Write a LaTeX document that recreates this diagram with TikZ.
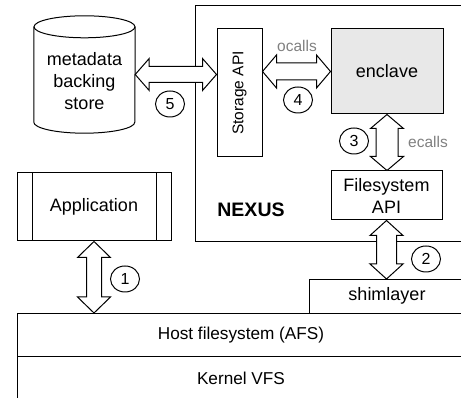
\documentclass[tikz,border=0pt]{standalone}
\usepackage{fontspec}
\setmainfont{Liberation Sans}
\usetikzlibrary{calc,shapes.geometric}
\definecolor{enclavefill}{HTML}{E8E8E8}
\definecolor{callgray}{HTML}{808080}

\tikzset{
  outline/.style={draw, line width=1pt},
  boxnode/.style={outline, inner sep=0pt, align=center},
  lbl/.style={inner sep=0pt, align=center, font=\fontsize{18}{22}\selectfont},
  smalllbl/.style={inner sep=0pt, align=center, font=\fontsize{17.2}{20}\selectfont},
  fatbody/.style={draw, line width=1pt, fill=white, line join=miter},
  numtag/.style={draw, line width=1pt, ellipse, minimum width=29pt, minimum height=26pt,
    inner sep=0pt, font=\fontsize{16}{16}\selectfont},
  calltag/.style={inner sep=0pt, text=callgray, font=\fontsize{15.5}{15.5}\selectfont},
}

% double-headed block arrow between two named points:
% #1 start, #2 end, #3 half shaft width, #4 half head width, #5 head length
\newcommand\fatarrow[5]{%
  \path ($(#1)!#5!(#2)$) coordinate (fatA) ($(#2)!#5!(#1)$) coordinate (fatB);
  \draw[fatbody] (#1)
    -- ($(fatA)!#4!90:(#2)$) -- ($(fatA)!#3!90:(#2)$)
    -- ($(fatB)!#3!-90:(#1)$) -- ($(fatB)!#4!-90:(#1)$)
    -- (#2)
    -- ($(fatB)!#4!90:(#1)$) -- ($(fatB)!#3!90:(#1)$)
    -- ($(fatA)!#3!-90:(#2)$) -- ($(fatA)!#4!-90:(#2)$)
    -- cycle;}

\begin{document}
\begin{tikzpicture}[x=1pt, y=1pt]
\useasboundingbox (0,0) rectangle (461,398);
\clip (0,0) rectangle (461,398);

% NEXUS container
\node[boxnode, anchor=north west, minimum width=275pt, minimum height=236pt] (nexus) at (195,393) {};
\node[inner sep=0pt, font=\bfseries\fontsize{19.5}{19.5}\selectfont] (nexuslabel) at (251,188) {NEXUS};

% metadata backing store (cylinder)
\node[inner sep=0pt, minimum width=101pt, minimum height=117pt] (store) at (84.5,323.5) {};
\draw[outline] ($(store.north)+(0,-11)$) ellipse [x radius=50.5, y radius=11];
\draw[outline] ($(store.north west)+(0,-11)$) -- ($(store.south west)+(0,11)$)
  arc[start angle=180, end angle=360, x radius=50.5, y radius=11]
  -- ($(store.north east)+(0,-11)$);
\node[lbl] (storetext) at (84.5,317) {metadata\\backing\\store};

% Storage API
\node[boxnode, minimum width=45pt, minimum height=128pt] (storage) at (239.5,305) {};
\node[inner sep=0pt, rotate=90, font=\fontsize{15.5}{15.5}\selectfont] (storagetext) at (storage.center) {Storage API};

% enclave
\node[boxnode, lbl, draw, fill=enclavefill, minimum width=112pt, minimum height=85pt] (enclave) at (387,326.5) {enclave};

% Filesystem API
\node[boxnode, lbl, draw, minimum width=111pt, minimum height=49pt] (fsapi) at (386.5,202.5) {Filesystem\\API};

% Application
\node[boxnode, lbl, draw, minimum width=154pt, minimum height=68pt] (app) at (94,191) {Application};
\draw[outline] ([xshift=16pt]app.north west) -- ([xshift=16pt]app.south west);
\draw[outline] ([xshift=-15pt]app.north east) -- ([xshift=-15pt]app.south east);

% shim layer and host stack
\node[boxnode, anchor=north west, minimum width=161pt, minimum height=34pt] (shim) at (309,119) {};
\node[lbl] (shimtext) at (387,102) {shimlayer};
\node[boxnode, anchor=north west, minimum width=453pt, minimum height=43pt] (host) at (17,85) {};
\node[smalllbl] (hosttext) at (241,63) {Host filesystem (AFS)};
\node[boxnode, anchor=north west, minimum width=453pt, minimum height=60pt] (kernel) at (17,42) {};
\node[smalllbl] (kerneltext) at (241,20) {Kernel VFS};

% arrow end points
\coordinate (s5) at (store.east);
\coordinate (e5) at (storage.west |- store.east);
\coordinate (s4) at (storage.east |- enclave.west);
\coordinate (e4) at (enclave.west);
\coordinate (s3) at (enclave.south);
\coordinate (e3) at (enclave.south |- fsapi.north);
\coordinate (s2) at (fsapi.south);
\coordinate (e2) at (fsapi.south |- shim.north);
\coordinate (s1) at (app.south);
\coordinate (e1) at (app.south |- host.north);

\fatarrow{s5}{e5}{8pt}{16pt}{14pt}
\fatarrow{s4}{e4}{8.5pt}{16.5pt}{14pt}
\fatarrow{s3}{e3}{11pt}{16.5pt}{14pt}
\fatarrow{s2}{e2}{10pt}{16.5pt}{15pt}
\fatarrow{s1}{e1}{7.5pt}{16.5pt}{16pt}

% step numbers
\node[numtag] (n5) at (170,294) {5};
\node[numtag] (n4) at (298,298) {4};
\node[numtag] (n3) at (354,257) {3};
\node[numtag] (n2) at (426,139) {2};
\node[numtag] (n1) at (125,119) {1};

% call labels
\node[calltag] (ocalls) at (297,352) {ocalls};
\node[calltag] (ecalls) at (428,256) {ecalls};
\end{tikzpicture}
\end{document}
